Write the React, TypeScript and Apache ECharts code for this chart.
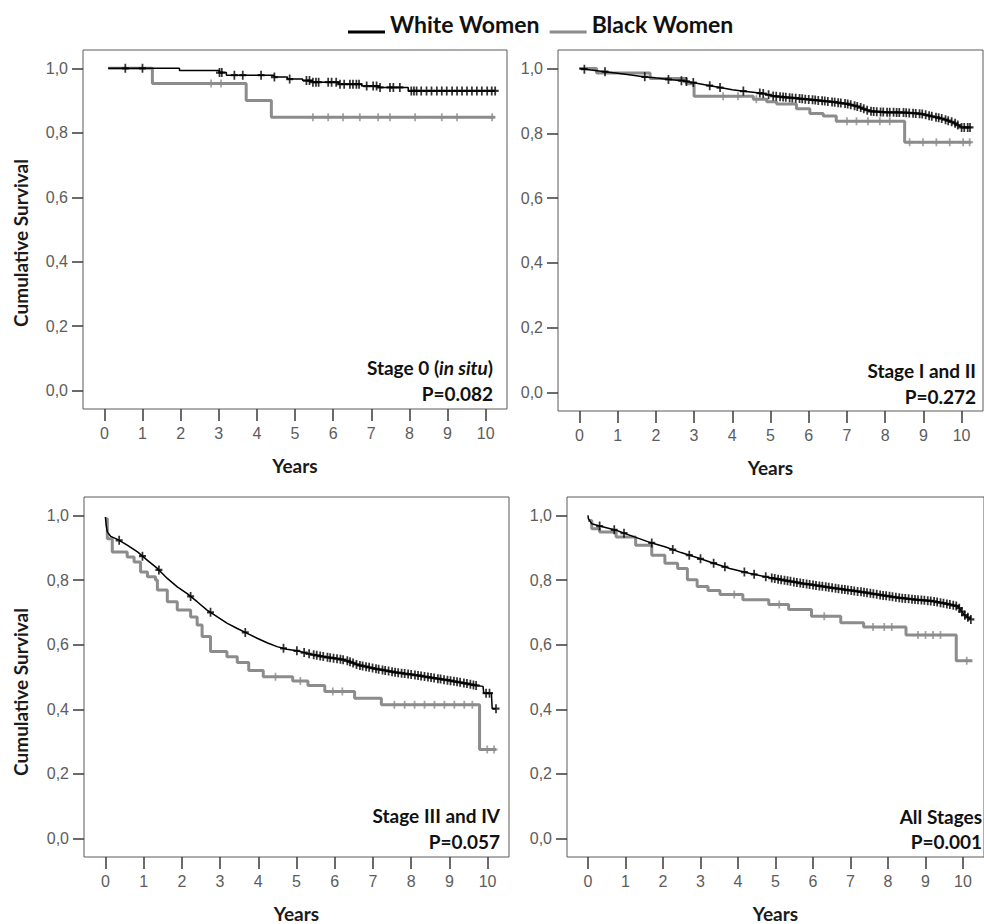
import React, { useEffect, useRef } from 'react';
import * as echarts from 'echarts';

// ---------- axes ----------
const X_TICKS = [0, 1, 2, 3, 4, 5, 6, 7, 8, 9, 10];
const Y_TICKS = [0, 0.2, 0.4, 0.6, 0.8, 1.0];
const LEGEND_NAMES = ['White Women', 'Black Women'];
const PANEL_TITLES = ['Stage 0 (in situ)', 'Stage I and II', 'Stage III and IV', 'All Stages'];
const P_VALUES = ['P=0.082', 'P=0.272', 'P=0.057', 'P=0.001'];

// ---------- Stage 0 (in situ) ----------
const S0_WHITE_T = [0.1, 1.97, 3.02, 3.2, 4.45, 4.8, 5.2, 5.45, 6.15, 6.75, 7.2, 7.97, 10.25];
const S0_WHITE_S = [1.0, 0.993, 0.987, 0.979, 0.973, 0.967, 0.962, 0.957, 0.951, 0.945, 0.941, 0.93, 0.93];
const S0_WHITE_CENSOR = [0.55, 1.0, 3.02, 3.08, 3.41, 3.63, 4.11, 4.46, 4.86, 5.3, 5.38, 5.47, 5.55, 5.62, 5.87, 5.96, 6.08, 6.18, 6.29, 6.44, 6.52, 6.61, 6.68, 6.88, 7.05, 7.14, 7.23, 7.49, 7.58, 7.75, 8.05, 8.12, 8.19, 8.31, 8.45, 8.58, 8.72, 8.85, 8.98, 9.12, 9.25, 9.38, 9.51, 9.64, 9.77, 9.9, 10.04, 10.16, 10.25];
const S0_BLACK_T = [0.1, 1.26, 3.72, 4.38, 10.24];
const S0_BLACK_S = [1.0, 0.953, 0.9, 0.848, 0.848];
const S0_BLACK_CENSOR = [2.8, 3.06, 5.47, 5.87, 6.26, 6.7, 7.18, 7.49, 8.15, 8.85, 9.25, 10.17];

// ---------- Stage I and II ----------
const S12_WHITE_T = [0, 0.3, 0.67, 1.0, 1.4, 1.72, 2.0, 2.33, 2.7, 3.0, 3.35, 3.68, 4.0, 4.3, 4.6, 4.85, 5.07, 5.4, 5.85, 6.2, 6.6, 7.0, 7.3, 7.6, 8.0, 8.5, 8.95, 9.2, 9.5, 9.8, 10.0, 10.2];
const S12_WHITE_S = [1.0, 0.995, 0.99, 0.985, 0.979, 0.974, 0.971, 0.966, 0.962, 0.956, 0.948, 0.941, 0.934, 0.93, 0.926, 0.922, 0.915, 0.911, 0.906, 0.902, 0.897, 0.891, 0.882, 0.868, 0.865, 0.864, 0.86, 0.853, 0.845, 0.833, 0.818, 0.818];
const S12_WHITE_CENSOR = [0.13, 0.67, 1.71, 2.33, 2.67, 2.8, 2.98, 3.41, 3.68, 4.29, 4.72, 4.81, 4.95, 5.07, 5.15, 5.25, 5.33, 5.4, 5.5, 5.57, 5.66, 5.76, 5.83, 5.91, 6.0, 6.1, 6.17, 6.25, 6.35, 6.42, 6.5, 6.61, 6.68, 6.77, 6.84, 6.95, 7.02, 7.1, 7.2, 7.27, 7.36, 7.44, 7.53, 7.63, 7.7, 7.78, 7.88, 7.95, 8.05, 8.12, 8.22, 8.3, 8.37, 8.48, 8.55, 8.63, 8.73, 8.8, 8.9, 8.97, 9.06, 9.15, 9.22, 9.33, 9.4, 9.48, 9.58, 9.65, 9.74, 9.83, 9.9, 10.0, 10.07, 10.16, 10.22];
const S12_BLACK_T = [0, 0.45, 1.85, 2.8, 3.0, 4.55, 4.9, 5.16, 5.68, 6.03, 6.38, 6.72, 8.51, 10.25];
const S12_BLACK_S = [1.0, 0.986, 0.969, 0.953, 0.914, 0.905, 0.897, 0.89, 0.876, 0.861, 0.853, 0.837, 0.772, 0.772];
const S12_BLACK_CENSOR = [3.76, 4.15, 4.63, 7.0, 7.25, 7.55, 7.86, 8.12, 8.64, 8.99, 9.34, 9.69, 10.04, 10.21];

// ---------- Stage III and IV ----------
const S34_WHITE_T = [0, 0.02, 0.05, 0.14, 0.33, 0.57, 0.84, 1.1, 1.36, 1.62, 1.88, 2.14, 2.4, 2.66, 2.93, 3.19, 3.45, 3.71, 3.97, 4.23, 4.49, 4.75, 5.01, 5.39, 5.8, 6.26, 6.45, 6.61, 7.1, 7.56, 8.0, 8.43, 9.0, 9.4, 9.74, 9.88, 9.9, 10.1, 10.12, 10.22];
const S34_WHITE_S = [0.995, 0.97, 0.949, 0.935, 0.925, 0.908, 0.887, 0.861, 0.836, 0.805, 0.779, 0.758, 0.733, 0.707, 0.686, 0.666, 0.65, 0.635, 0.62, 0.606, 0.594, 0.586, 0.581, 0.57, 0.561, 0.553, 0.545, 0.537, 0.525, 0.515, 0.508, 0.5, 0.489, 0.481, 0.473, 0.471, 0.45, 0.45, 0.402, 0.402];
const S34_WHITE_CENSOR = [0.36, 0.97, 1.4, 2.23, 2.75, 3.66, 4.66, 5.01, 5.2, 5.33, 5.45, 5.53, 5.62, 5.7, 5.81, 5.88, 5.97, 6.06, 6.15, 6.22, 6.33, 6.4, 6.48, 6.57, 6.66, 6.73, 6.82, 6.9, 6.99, 7.08, 7.15, 7.25, 7.32, 7.41, 7.5, 7.58, 7.66, 7.75, 7.83, 7.92, 8.0, 8.1, 8.18, 8.26, 8.35, 8.44, 8.52, 8.6, 8.7, 8.77, 8.86, 8.95, 9.03, 9.12, 9.2, 9.28, 9.38, 9.46, 9.55, 9.63, 9.7, 9.96, 10.05, 10.22];
const S34_BLACK_T = [0, 0.05, 0.18, 0.57, 0.75, 0.92, 1.1, 1.31, 1.36, 1.62, 1.88, 2.23, 2.4, 2.53, 2.75, 3.18, 3.45, 3.75, 4.13, 4.9, 5.3, 5.74, 6.52, 7.22, 9.79, 10.22];
const S34_BLACK_S = [0.99, 0.928, 0.887, 0.871, 0.856, 0.825, 0.81, 0.8, 0.769, 0.733, 0.707, 0.686, 0.661, 0.625, 0.579, 0.563, 0.545, 0.52, 0.501, 0.488, 0.474, 0.455, 0.434, 0.414, 0.276, 0.276];
const S34_BLACK_CENSOR = [4.45, 5.1, 5.95, 6.2, 7.56, 7.83, 8.09, 8.35, 8.61, 8.87, 9.13, 9.39, 9.6, 9.99, 10.17];

// ---------- All Stages ----------
const ALL_WHITE_T = [0, 0.01, 0.1, 0.31, 0.75, 1.18, 1.61, 2.05, 2.48, 2.92, 3.35, 3.78, 4.3, 4.86, 5.3, 5.7, 6.1, 6.57, 7.0, 7.43, 7.9, 8.3, 8.7, 9.17, 9.5, 9.86, 10.03, 10.21];
const ALL_WHITE_S = [1.0, 0.99, 0.974, 0.967, 0.954, 0.936, 0.918, 0.903, 0.885, 0.869, 0.852, 0.836, 0.821, 0.807, 0.798, 0.79, 0.783, 0.775, 0.768, 0.761, 0.752, 0.745, 0.74, 0.735, 0.728, 0.719, 0.693, 0.678];
const ALL_WHITE_CENSOR = [0.31, 0.7, 0.96, 1.7, 2.26, 2.7, 3.0, 3.35, 3.65, 4.17, 4.43, 4.74, 4.9, 4.98, 5.07, 5.15, 5.24, 5.32, 5.4, 5.49, 5.57, 5.66, 5.74, 5.83, 5.91, 6.0, 6.08, 6.17, 6.25, 6.34, 6.42, 6.51, 6.6, 6.68, 6.77, 6.85, 6.93, 7.02, 7.1, 7.19, 7.28, 7.36, 7.44, 7.53, 7.61, 7.7, 7.79, 7.87, 7.95, 8.04, 8.12, 8.21, 8.3, 8.38, 8.46, 8.55, 8.64, 8.72, 8.8, 8.89, 8.97, 9.06, 9.14, 9.23, 9.31, 9.4, 9.48, 9.57, 9.65, 9.74, 9.82, 9.9, 9.97, 10.05, 10.13, 10.21];
const ALL_BLACK_T = [0, 0.1, 0.31, 0.75, 1.27, 1.7, 2.05, 2.39, 2.65, 2.91, 3.2, 3.52, 4.13, 4.82, 5.35, 5.96, 6.74, 7.35, 8.48, 9.82, 10.25];
const ALL_BLACK_S = [0.984, 0.959, 0.949, 0.933, 0.908, 0.877, 0.852, 0.836, 0.801, 0.78, 0.768, 0.755, 0.739, 0.724, 0.709, 0.688, 0.668, 0.655, 0.63, 0.55, 0.55];
const ALL_BLACK_CENSOR = [3.9, 5.1, 6.3, 7.6, 7.9, 8.1, 8.8, 9.0, 9.2, 9.4, 10.1];

const CURVES = [
  { wt: S0_WHITE_T, ws: S0_WHITE_S, wc: S0_WHITE_CENSOR, bt: S0_BLACK_T, bs: S0_BLACK_S, bc: S0_BLACK_CENSOR },
  { wt: S12_WHITE_T, ws: S12_WHITE_S, wc: S12_WHITE_CENSOR, bt: S12_BLACK_T, bs: S12_BLACK_S, bc: S12_BLACK_CENSOR },
  { wt: S34_WHITE_T, ws: S34_WHITE_S, wc: S34_WHITE_CENSOR, bt: S34_BLACK_T, bs: S34_BLACK_S, bc: S34_BLACK_CENSOR },
  { wt: ALL_WHITE_T, ws: ALL_WHITE_S, wc: ALL_WHITE_CENSOR, bt: ALL_BLACK_T, bs: ALL_BLACK_S, bc: ALL_BLACK_CENSOR },
];

// ---------- layout (pixels) & drawing style per panel ----------
const LAYOUT = [
  { left: 83, top: 50, width: 424, height: 359, yTitle: [20, 243], note: [493, 367, 393], whiteStep: true },
  { left: 558, top: 50, width: 425, height: 361, yTitle: null, note: [976, 370, 396], whiteStep: false },
  { left: 84, top: 497, width: 425, height: 361, yTitle: [20, 692], note: [500, 815, 841], whiteStep: false },
  { left: 567, top: 497, width: 427, height: 363, yTitle: null, note: [982, 816, 841], whiteStep: false },
];

const WHITE_COLOR = '#000000';
const BLACK_COLOR = '#8c8c8c';
const UNDERLINE_ICON = 'path://M0,0L0.01,0L0,0.01Z M0,17L37,17L37,20L0,20Z';
const PLUS_ICON = 'path://M3,0L5,0L5,3L8,3L8,5L5,5L5,8L3,8L3,5L0,5L0,3L3,3Z';

function stepAt(T: number[], S: number[], t: number): number {
  let v = S[0];
  for (let i = 0; i < T.length; i++) {
    if (T[i] <= t + 1e-9) v = S[i];
    else break;
  }
  return v;
}

function lineAt(T: number[], S: number[], t: number): number {
  if (t <= T[0]) return S[0];
  for (let i = 1; i < T.length; i++) {
    if (T[i] >= t) {
      const dt = T[i] - T[i - 1];
      if (dt <= 0) return S[i];
      return S[i - 1] + ((S[i] - S[i - 1]) * (t - T[i - 1])) / dt;
    }
  }
  return S[S.length - 1];
}

function buildOption() {
  const grid: any[] = [];
  const xAxis: any[] = [];
  const yAxis: any[] = [];
  const series: any[] = [];
  const graphic: any[] = [];

  LAYOUT.forEach((L, i) => {
    grid.push({
      left: L.left, top: L.top, width: L.width, height: L.height,
      show: true, borderColor: '#5a5a5a', borderWidth: 1, backgroundColor: 'transparent',
      containLabel: false,
    });
    xAxis.push({
      type: 'value', gridIndex: i, min: -0.56, max: 10.56, position: 'bottom',
      axisLine: { show: false, onZero: false },
      splitLine: { show: false },
      axisTick: { show: true, inside: false, length: 12, customValues: X_TICKS, lineStyle: { color: '#3a3a3a', width: 1.5 } },
      axisLabel: {
        show: true, customValues: X_TICKS, margin: 16, color: '#5c5c5c',
        fontFamily: 'Liberation Sans', fontSize: 16,
        formatter: (v: number) => String(Math.round(v)),
      },
      name: 'Years', nameLocation: 'middle', nameGap: 47,
      nameTextStyle: { fontFamily: 'Lato', fontWeight: 'bold', fontSize: 19, color: '#1a1a1a' },
    });
    yAxis.push({
      type: 'value', gridIndex: i, min: -0.057, max: 1.057, position: 'left',
      axisLine: { show: false, onZero: false },
      splitLine: { show: false },
      axisTick: { show: true, inside: false, length: 11, customValues: Y_TICKS, lineStyle: { color: '#3a3a3a', width: 1.5 } },
      axisLabel: {
        show: true, customValues: Y_TICKS, margin: 15, color: '#5c5c5c',
        fontFamily: 'Liberation Sans', fontSize: 16,
        formatter: (v: number) => v.toFixed(1).replace('.', ','),
      },
    });

    const C = CURVES[i];
    series.push({
      type: 'line', name: LEGEND_NAMES[1], xAxisIndex: i, yAxisIndex: i, step: 'end',
      data: C.bt.map((t, j) => [t, C.bs[j]]),
      symbol: 'none', showSymbol: false,
      lineStyle: { color: BLACK_COLOR, width: 3 }, itemStyle: { color: BLACK_COLOR }, z: 2,
    });
    series.push({
      type: 'scatter', name: 'Black Women censored', xAxisIndex: i, yAxisIndex: i,
      data: C.bc.map((t) => [t, stepAt(C.bt, C.bs, t)]),
      symbol: PLUS_ICON, symbolSize: [7, 8], itemStyle: { color: BLACK_COLOR }, z: 2,
    });
    series.push({
      type: 'line', name: LEGEND_NAMES[0], xAxisIndex: i, yAxisIndex: i,
      step: L.whiteStep ? 'end' : false,
      data: C.wt.map((t, j) => [t, C.ws[j]]),
      symbol: 'none', showSymbol: false,
      lineStyle: { color: WHITE_COLOR, width: 1.5 }, itemStyle: { color: WHITE_COLOR }, z: 3,
    });
    series.push({
      type: 'scatter', name: 'White Women censored', xAxisIndex: i, yAxisIndex: i,
      data: C.wc.map((t) => [t, L.whiteStep ? stepAt(C.wt, C.ws, t) : lineAt(C.wt, C.ws, t)]),
      symbol: PLUS_ICON, symbolSize: [7, 9], itemStyle: { color: WHITE_COLOR }, z: 4,
    });

    if (L.yTitle) {
      graphic.push({
        type: 'text', x: L.yTitle[0], y: L.yTitle[1], rotation: Math.PI / 2,
        style: {
          text: 'Cumulative Survival', fontFamily: 'Lato', fontWeight: 'bold', fontSize: 19,
          fill: '#1a1a1a', align: 'center', verticalAlign: 'middle',
        },
      });
    }
    const title = PANEL_TITLES[i];
    const isSitu = title.indexOf('(in situ)') >= 0;
    graphic.push({
      type: 'text', x: L.note[0], y: L.note[1],
      style: {
        text: isSitu ? '{b|Stage 0 (}{i|in situ}{b|)}' : title,
        rich: isSitu ? {
          b: { fontFamily: 'Lato', fontWeight: 'bold', fontSize: 19, fill: '#111' },
          i: { fontFamily: 'Lato', fontWeight: 'bold', fontStyle: 'italic', fontSize: 19, fill: '#111' },
        } : undefined,
        fontFamily: 'Lato', fontWeight: 'bold', fontSize: 19, fill: '#111',
        align: 'right', verticalAlign: 'middle',
      },
    });
    graphic.push({
      type: 'text', x: L.note[0], y: L.note[2],
      style: {
        text: P_VALUES[i], fontFamily: 'Lato', fontWeight: 'bold', fontSize: 19, fill: '#111',
        align: 'right', verticalAlign: 'middle',
      },
    });
  });

  return {
    animation: false,
    backgroundColor: '#ffffff',
    legend: {
      data: LEGEND_NAMES.map((n) => ({ name: n, icon: UNDERLINE_ICON })),
      left: 343, top: 7, itemWidth: 37, itemHeight: 20, itemGap: 10,
      selectedMode: false,
      itemStyle: { borderWidth: 0 },
      textStyle: { fontFamily: 'Lato', fontWeight: 'bold', fontSize: 23, color: '#111' },
    },
    grid, xAxis, yAxis, series, graphic,
  };
}

export default function App() {
  const ref = useRef<HTMLDivElement>(null);
  useEffect(() => {
    if (!ref.current) return;
    const chart = echarts.init(ref.current, null, { renderer: 'svg' });
    chart.setOption(buildOption() as any);
    return () => chart.dispose();
  }, []);
  return (
    <div
      ref={ref}
      style={{ position: 'fixed', left: 0, top: 0, width: 984, height: 924, background: '#fff' }}
    />
  );
}
